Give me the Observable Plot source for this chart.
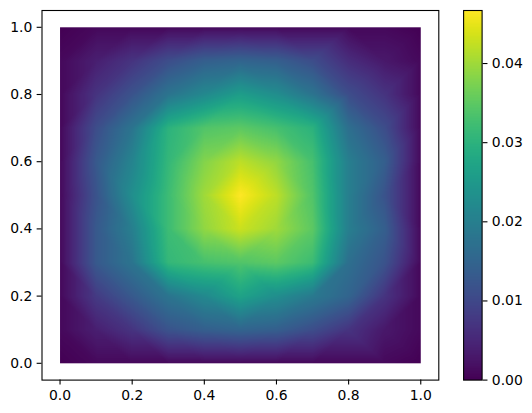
<!DOCTYPE html>
<html>
<head>
<meta charset="utf-8">
<script src="https://cdn.jsdelivr.net/npm/d3@7"></script>
<script src="https://cdn.jsdelivr.net/npm/@observablehq/plot@0.6"></script>
<style>
  html, body { margin: 0; padding: 0; background: white; }
  #wrap { position: relative; width: 532px; height: 413px; }
  #wrap svg { position: absolute; left: 0; top: 0; }
</style>
</head>
<body>
<div id="wrap"></div>
<script>
// mesh node coordinates
const gridX = [0, 0.1, 0.2, 0.3, 0.4, 0.5, 0.6, 0.7, 0.8, 0.9, 1.0];
const gridY = [1.0, 0.9, 0.8, 0.7, 0.6, 0.5, 0.4, 0.3, 0.2, 0.1, 0.0];
// nodal values, one row per y (top to bottom)
const rowY10 = [0, .001, .001, .001, .001, .001, .001, .001, .001, .001, 0];
const rowY09 = [.001, .004, .007, .011, .014, .015, .014, .011, .006, .003, .001];
const rowY08 = [.001, .007, .012, .018, .022, .026, .023, .018, .011, .007, .001];
const rowY07 = [.001, .011, .018, .030, .034, .035, .033, .030, .017, .011, .001];
const rowY06 = [.001, .013, .021, .031, .038, .042, .039, .033, .020, .014, .001];
const rowY05 = [.001, .012, .023, .032, .040, .0467, .042, .034, .020, .012, .001];
const rowY04 = [.001, .013, .020, .032, .039, .043, .040, .035, .020, .014, .001];
const rowY03 = [.001, .013, .018, .031, .033, .034, .035, .032, .017, .012, .001];
const rowY02 = [.001, .008, .013, .018, .022, .027, .023, .019, .015, .007, .001];
const rowY01 = [.001, .004, .007, .012, .014, .015, .014, .011, .007, .003, .001];
const rowY00 = [0, .001, .001, .001, .001, .001, .001, .001, .001, .001, 0];
const rows = [rowY10, rowY09, rowY08, rowY07, rowY06, rowY05, rowY04, rowY03, rowY02, rowY01, rowY00];

const axisTicks = [0, 0.2, 0.4, 0.6, 0.8, 1.0];
const cbarTicks = [0, 0.01, 0.02, 0.03, 0.04];
const vmin = 0, vmax = 0.0467;

const nodes = [];
rows.forEach((row, j) => row.forEach((v, i) => nodes.push({x: gridX[i], y: gridY[j], v})));

const W = 532, H = 413;
const axL = 41.5, axR = 438.3, axT = 10, axB = 379.6;
const cbL = 463.1, cbR = 481.6;
const font = {fontFamily: "DejaVu Sans", fontSize: "13.9px", color: "black", overflow: "visible"};
const tick = 4.86;

const colorOpt = {type: "linear", scheme: "viridis", domain: [vmin, vmax]};

const main = Plot.plot({
  width: W, height: H,
  marginLeft: axL, marginRight: W - axR, marginTop: axT, marginBottom: H - axB,
  style: {...font, background: "white"},
  x: {domain: [-0.05, 1.05], label: null},
  y: {domain: [-0.05, 1.05], label: null},
  color: colorOpt,
  marks: [
    Plot.raster(nodes, {x: "x", y: "y", fill: "v", x1: 0, x2: 1, y1: 0, y2: 1,
      interpolate: "barycentric", pixelSize: 1}),
    Plot.frame({stroke: "black", strokeWidth: 1.1}),
    Plot.axisX(axisTicks, {tickFormat: d3.format(".1f"), tickSize: tick, tickPadding: tick, strokeWidth: 1.1, label: null}),
    Plot.axisY(axisTicks, {tickFormat: d3.format(".1f"), tickSize: tick, tickPadding: tick, strokeWidth: 1.1, label: null})
  ]
});

const cbar = Plot.plot({
  width: W, height: H,
  marginLeft: cbL, marginRight: W - cbR, marginTop: axT, marginBottom: H - axB,
  style: {...font, background: "transparent"},
  x: {domain: [0, 1], axis: null},
  y: {domain: [vmin, vmax], label: null},
  color: colorOpt,
  marks: [
    Plot.raster({x1: 0, x2: 1, y1: vmin, y2: vmax, fill: (x, y) => y, pixelSize: 1}),
    Plot.frame({stroke: "black", strokeWidth: 1.1}),
    Plot.axisY(cbarTicks, {anchor: "right", tickFormat: d3.format(".2f"), tickSize: tick, tickPadding: tick, strokeWidth: 1.1, label: null})
  ]
});
cbar.style.pointerEvents = "none";

const wrap = document.getElementById("wrap");
wrap.appendChild(main);
wrap.appendChild(cbar);
</script>
</body>
</html>
